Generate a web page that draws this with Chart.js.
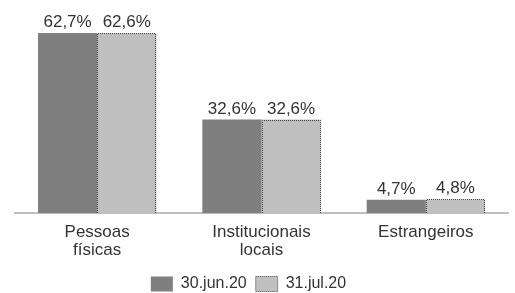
<!DOCTYPE html>
<html><head><meta charset="utf-8">
<script src="https://cdn.jsdelivr.net/npm/chart.js@4"></script>
<style>html,body{margin:0;padding:0;background:#fff}#wrap{width:515px;height:293px}</style>
</head><body><div id="wrap"><canvas id="c" width="515" height="293"></canvas></div>
<script>
const categories = [["Pessoas","físicas"],["Institucionais","locais"],["Estrangeiros"]];
const seriesNames = ["30.jun.20","31.jul.20"];
const jun20 = [62.7, 32.6, 4.7];
const jul20 = [62.6, 32.6, 4.8];

const FONT = '"Liberation Sans", Arial, sans-serif';
const fmt = v => v.toFixed(1).replace('.', ',') + '%';
const legendShift = {
  id: 'legendShift',
  beforeDraw(chart) {
    const lg = chart.legend;
    if (!lg || lg._shifted) return;
    const dx = -13, dy = -2;
    lg.left += dx; lg.right += dx; lg.top += dy; lg.bottom += dy;
    lg._shifted = true;
  }
};
const labelPlugin = {
  id: 'vlabels',
  afterDatasetsDraw(chart) {
    const ctx = chart.ctx;
    ctx.save();
    ctx.strokeStyle = '#404040';
    ctx.lineWidth = 1;
    ctx.setLineDash([1,1]);
    chart.getDatasetMeta(1).data.forEach(bar => {
      const l = Math.round(bar.x - bar.width/2) + 0.5;
      const r = Math.round(bar.x + bar.width/2) - 0.5;
      const t = Math.round(bar.y) + 0.5;
      const b = Math.round(bar.base);
      ctx.beginPath();
      ctx.moveTo(l, b); ctx.lineTo(l, t); ctx.lineTo(r, t); ctx.lineTo(r, b);
      ctx.stroke();
    });
    ctx.setLineDash([]);
    ctx.font = '17px ' + FONT;
    ctx.fillStyle = '#333';
    ctx.textAlign = 'center';
    ctx.textBaseline = 'alphabetic';
    chart.data.datasets.forEach((ds, i) => {
      chart.getDatasetMeta(i).data.forEach((bar, j) => {
        ctx.fillText(fmt(ds.data[j]), bar.x, bar.y - 6);
      });
    });
    ctx.restore();
  }
};

new Chart(document.getElementById('c'), {
  type: 'bar',
  data: {
    labels: categories,
    datasets: [
      { label: seriesNames[0], data: jun20, backgroundColor: '#7f7f7f', borderWidth: 0 },
      { label: seriesNames[1], data: jul20, backgroundColor: '#bfbfbf', borderWidth: 0 }
    ]
  },
  options: {
    responsive: false,
    animation: false,
    devicePixelRatio: 1,
    layout: { padding: { left: 15, right: 7, top: 12, bottom: -11 } },
    datasets: { bar: { categoryPercentage: 0.72, barPercentage: 1.0 } },
    plugins: {
      legend: {
        position: 'bottom',
        labels: {
          boxWidth: 22, boxHeight: 15, padding: 9,
          color: '#333',
          font: { family: FONT, size: 16 },
          generateLabels(chart) {
            return chart.data.datasets.map((ds, i) => ({
              text: ds.label,
              fillStyle: ds.backgroundColor,
              strokeStyle: i === 1 ? '#404040' : ds.backgroundColor,
              lineWidth: i === 1 ? 1 : 0,
              lineDash: i === 1 ? [1,1] : [],
              fontColor: '#333',
              hidden: false,
              datasetIndex: i
            }));
          }
        }
      },
      tooltip: { enabled: false }
    },
    scales: {
      x: {
        grid: { display: false, drawTicks: false },
        border: { color: '#bfbfbf', width: 2 },
        ticks: { color: '#333', padding: 10, font: { family: FONT, size: 17, lineHeight: 1.05 } }
      },
      y: { display: false, min: 0, max: 70 }
    }
  },
  plugins: [labelPlugin, legendShift]
});
</script></body></html>
